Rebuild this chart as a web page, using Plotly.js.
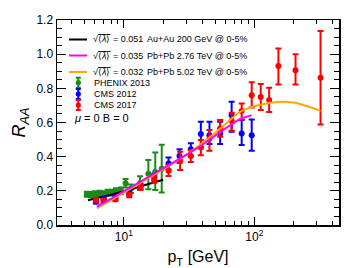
<!DOCTYPE html>
<html>
<head>
<meta charset="utf-8">
<script src="https://cdn.plot.ly/plotly-3.0.1.min.js"></script>
<style>html,body{margin:0;padding:0;background:#fff;}#chart{width:357px;height:268px;}</style>
</head>
<body>
<div id="chart"></div>
<script>
// ---- data ----
const phenixX = [5.2, 5.6, 6.0, 6.5, 7.0, 7.5, 8.1, 8.7, 9.5, 10.3, 11.3, 13.3, 15.4, 17.4, 19.5];
const phenixY = [0.18, 0.178, 0.182, 0.185, 0.183, 0.19, 0.19, 0.195, 0.2, 0.245, 0.212, 0.245, 0.30, 0.31, 0.33];
const phenixErrUp = [0.015, 0.015, 0.015, 0.015, 0.015, 0.017, 0.017, 0.02, 0.02, 0.025, 0.025, 0.04, 0.08, 0.115, 0.14];
const phenixErrDn = [0.015, 0.015, 0.015, 0.015, 0.015, 0.017, 0.017, 0.02, 0.02, 0.025, 0.025, 0.04, 0.09, 0.105, 0.14];

const cms2012X = [6.1, 7.0, 8.6, 11.0, 13.4, 17.1, 22, 26.7, 32.6, 38.9, 45.3, 54.7, 67, 80, 95.5];
const cms2012Y = [0.138, 0.15, 0.16, 0.19, 0.226, 0.28, 0.36, 0.404, 0.443, 0.532, 0.525, 0.534, 0.643, 0.536, 0.526];
const cms2012ErrUp = [0.012, 0.012, 0.012, 0.014, 0.016, 0.02, 0.035, 0.04, 0.035, 0.072, 0.079, 0.07, 0.078, 0.078, 0.092];
const cms2012ErrDn = [0.012, 0.012, 0.012, 0.014, 0.016, 0.02, 0.035, 0.04, 0.04, 0.078, 0.051, 0.06, 0.097, 0.068, 0.091];

const cms2017X = [6.1, 7.0, 8.6, 11.0, 13.4, 17.1, 22, 27, 32.6, 38.9, 45.3, 54.7, 67.1, 80, 95.5, 112, 130, 153, 207, 322];
const cms2017Y = [0.146, 0.142, 0.15, 0.175, 0.22, 0.267, 0.318, 0.374, 0.404, 0.454, 0.507, 0.565, 0.61, 0.668, 0.76, 0.749, 0.731, 0.93, 0.906, 0.862];
const cms2017ErrUp = [0.01, 0.01, 0.01, 0.012, 0.015, 0.02, 0.035, 0.055, 0.035, 0.043, 0.049, 0.049, 0.047, 0.043, 0.075, 0.076, 0.072, 0.103, 0.094, 0.273];
const cms2017ErrDn = [0.01, 0.01, 0.01, 0.012, 0.015, 0.02, 0.031, 0.052, 0.035, 0.045, 0.072, 0.049, 0.059, 0.05, 0.072, 0.076, 0.07, 0.107, 0.083, 0.273];

const auauX = [5.3, 6, 7, 8, 10, 12, 15, 20];
const auauY = [0.145, 0.155, 0.167, 0.177, 0.198, 0.214, 0.237, 0.265];

const pb276X = [6.2, 8, 10, 13, 17, 22, 30, 40, 55, 77, 95];
const pb276Y = [0.108, 0.155, 0.198, 0.248, 0.30, 0.35, 0.41, 0.47, 0.545, 0.618, 0.643];

const pb502X = [6.2, 8, 10, 13, 17, 22, 30, 40, 55, 77, 100, 150, 205, 322];
const pb502Y = [0.098, 0.145, 0.19, 0.24, 0.293, 0.345, 0.41, 0.48, 0.565, 0.66, 0.695, 0.72, 0.715, 0.668];

const xTickVals = [10, 100];
const xTickText = ['10<sup>1</sup>', '10<sup>2</sup>'];
const xMinorVals = [3, 4, 5, 6, 7, 8, 9, 20, 30, 40, 50, 60, 70, 80, 90, 200, 300, 400];

const legendLines = [
  {color: '#000000', lam: '0.051', label: 'Au+Au 200 GeV @ 0-5%'},
  {color: '#ff00ff', lam: '0.035', label: 'Pb+Pb 2.76 TeV @ 0-5%'},
  {color: '#ffa500', lam: '0.032', label: 'Pb+Pb 5.02 TeV @ 0-5%'}
];
const legendPoints = [
  {color: '#1a8a1a', label: 'PHENIX 2013'},
  {color: '#0000ff', label: 'CMS 2012'},
  {color: '#ff0000', label: 'CMS 2017'}
];

// ---- traces ----
function errTrace(x, y, up, dn, color, name) {
  return {
    type: 'scatter', mode: 'markers', x: x, y: y, name: name, showlegend: false,
    marker: {color: color, size: 6},
    error_y: {type: 'data', symmetric: false, array: up, arrayminus: dn, color: color, thickness: 2, width: 3}
  };
}
function lineTrace(x, y, color, name) {
  return {type: 'scatter', mode: 'lines', x: x, y: y, name: name, showlegend: false,
    line: {color: color, width: 2, shape: 'spline', smoothing: 0.6}};
}

const traces = [
  errTrace(phenixX, phenixY, phenixErrUp, phenixErrDn, legendPoints[0].color, 'PHENIX 2013'),
  lineTrace(auauX, auauY, legendLines[0].color, 'Au+Au'),
  errTrace(cms2012X, cms2012Y, cms2012ErrUp, cms2012ErrDn, legendPoints[1].color, 'CMS 2012'),
  errTrace(cms2017X, cms2017Y, cms2017ErrUp, cms2017ErrDn, legendPoints[2].color, 'CMS 2017'),
  lineTrace(pb502X, pb502Y, legendLines[2].color, 'Pb+Pb 5.02'),
  lineTrace(pb276X, pb276Y, legendLines[1].color, 'Pb+Pb 2.76')
];

// ---- custom legend (paper coordinates) ----
const L = 57, R = 339, T = 20, B = 225;
const px2x = p => (p - L) / (R - L);
const px2y = p => (B - p) / (B - T);
const shapes = [];
const annotations = [];
const font = {family: 'Liberation Sans, Arial, sans-serif', color: '#000'};
const lineRowsY = [39.5, 55.5, 72];
legendLines.forEach((e, i) => {
  const y = px2y(lineRowsY[i]);
  shapes.push({type: 'line', xref: 'paper', yref: 'paper', x0: px2x(69), x1: px2x(87), y0: y, y1: y,
    line: {color: e.color, width: 2}});
  annotations.push({xref: 'paper', yref: 'paper', x: px2x(91), y: y, xanchor: 'left', yanchor: 'middle',
    showarrow: false, text: '√<span style="text-decoration:overline">⟨<i>λ</i>⟩</span> = ' + e.lam,
    font: Object.assign({size: 9}, font)});
  annotations.push({xref: 'paper', yref: 'paper', x: px2x(145), y: y, xanchor: 'left', yanchor: 'middle',
    showarrow: false, text: e.label, font: Object.assign({size: 9}, font)});
});
const ptRowsY = [82.7, 94, 105];
legendPoints.forEach((e, i) => {
  const yc = ptRowsY[i];
  const xc = 78.3;
  shapes.push({type: 'line', xref: 'paper', yref: 'paper', x0: px2x(xc), x1: px2x(xc), y0: px2y(yc - 5), y1: px2y(yc + 5),
    line: {color: e.color, width: 2}});
  shapes.push({type: 'line', xref: 'paper', yref: 'paper', x0: px2x(xc - 2.5), x1: px2x(xc + 2.5), y0: px2y(yc - 5), y1: px2y(yc - 5),
    line: {color: e.color, width: 2}});
  shapes.push({type: 'line', xref: 'paper', yref: 'paper', x0: px2x(xc - 2.5), x1: px2x(xc + 2.5), y0: px2y(yc + 5), y1: px2y(yc + 5),
    line: {color: e.color, width: 2}});
  shapes.push({type: 'circle', xref: 'paper', yref: 'paper', x0: px2x(xc - 2.6), x1: px2x(xc + 2.6), y0: px2y(yc - 2.6), y1: px2y(yc + 2.6),
    fillcolor: e.color, line: {color: e.color, width: 0}});
  annotations.push({xref: 'paper', yref: 'paper', x: px2x(92), y: px2y(yc), xanchor: 'left', yanchor: 'middle',
    showarrow: false, text: e.label, font: Object.assign({size: 9}, font)});
});
annotations.push({xref: 'paper', yref: 'paper', x: px2x(72), y: px2y(117.7), xanchor: 'left', yanchor: 'middle',
  showarrow: false, text: '<i>μ</i> = 0 B = 0', font: Object.assign({size: 11}, font)});

const layout = {
  width: 357, height: 268,
  margin: {l: L, r: 357 - R, t: T, b: 268 - B},
  paper_bgcolor: '#fff', plot_bgcolor: '#fff',
  showlegend: false,
  font: Object.assign({size: 12}, font),
  xaxis: {
    type: 'log', range: [Math.log10(3.07), Math.log10(446)],
    tickmode: 'array', tickvals: xTickVals, ticktext: xTickText,
    ticks: 'inside', ticklen: 8, tickwidth: 1, tickcolor: '#000',
    showline: true, linecolor: '#000', linewidth: 1.5, mirror: 'allticks',
    showgrid: false, zeroline: false,
    tickfont: {size: 12},
    minor: {tickmode: 'array', tickvals: xMinorVals, ticks: 'inside', ticklen: 4, tickcolor: '#000', showgrid: false},
    title: {text: 'p<sub>T</sub> [GeV]', font: {size: 16}, standoff: 8}
  },
  yaxis: {
    range: [0, 1.2], dtick: 0.2, tickformat: '.1f',
    ticks: 'inside', ticklen: 9, tickwidth: 1, tickcolor: '#000',
    showline: true, linecolor: '#000', linewidth: 1.5, mirror: 'allticks',
    showgrid: false, zeroline: false,
    tickfont: {size: 12},
    minor: {dtick: 0.05, ticks: 'inside', ticklen: 5, tickcolor: '#000', showgrid: false},
    title: {text: '<i>R</i><sub><i>AA</i></sub>', font: {size: 18}, standoff: 6}
  },
  shapes: shapes,
  annotations: annotations
};

Plotly.newPlot('chart', traces, layout, {displayModeBar: false, staticPlot: true});
</script>
</body>
</html>
